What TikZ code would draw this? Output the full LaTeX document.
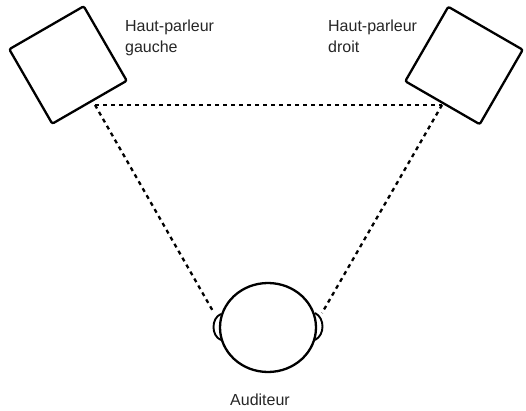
\documentclass[tikz,border=0pt]{standalone}
\usepackage{fontspec}
\usepackage{tikz}
\usetikzlibrary{shapes.geometric}
\setmainfont{Liberation Sans}

\begin{document}
\begin{tikzpicture}[x = 1pt, y = -1pt, line width = 2.3pt,
                        speaker/.style = {rectangle, draw, rounded corners = 2pt, minimum size = 86pt, inner sep = 0pt},
                        head/.style = {ellipse, draw, minimum width = 96pt, minimum height = 89pt, inner sep = 0pt},
                        path/.style = {line width = 2.3pt, dash pattern = on 4pt off 4pt},
                        ear/.style = {line width = 1.9pt},
                        caption/.style = {align = left, inner sep = 0pt, text = black!85, font = \fontsize{16}{21}\selectfont}]
    \useasboundingbox (0, 0) rectangle (526, 411);
    \node [speaker, rotate = 30] (gauche) at (68, 65){};
    \node [speaker, rotate = -30] (droit) at (464, 65.5){};
    \node [head] (tete) at (268, 327.5){};
    \coordinate (g) at (95, 105);
    \coordinate (d) at (442, 105);
    \coordinate (ga) at (214, 313);
    \coordinate (da) at (322, 313);
    \coordinate (gh) at (221, 314);
    \coordinate (gb) at (221, 340);
    \coordinate (dh) at (315, 313);
    \coordinate (db) at (315, 340);
    \draw [path] (g)--(d);
    \draw [path] (g)--(ga);
    \draw [path] (d)--(da);
    \draw [ear] (gh) .. controls (211, 318) and (211, 336) .. (gb);
    \draw [ear] (dh) .. controls (325, 318) and (325, 335) .. (db);
    \node [caption, anchor = base west] (lg) at (124, 53){Haut-parleur\\gauche};
    \node [caption, anchor = base west] (ld) at (327, 53){Haut-parleur\\droit};
    \node [caption, anchor = base] (la) at (260, 405){Auditeur};
\end{tikzpicture}
\end{document}
